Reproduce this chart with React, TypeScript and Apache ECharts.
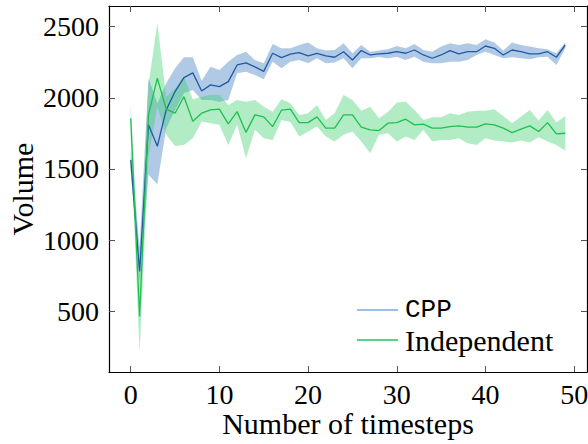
import React, { useEffect, useRef } from "react";
import * as echarts from "echarts";

const steps: number[] = Array.from({ length: 50 }, (_, i) => i);

const cppMean = [1564, 780, 1810, 1660, 1915, 2044, 2142, 2175, 2048, 2091, 2079, 2114, 2231, 2245, 2217, 2186, 2313, 2282, 2307, 2318, 2295, 2313, 2294, 2285, 2324, 2266, 2332, 2301, 2308, 2313, 2324, 2313, 2336, 2301, 2278, 2301, 2332, 2308, 2324, 2324, 2364, 2348, 2301, 2336, 2324, 2308, 2308, 2324, 2285, 2371];
const cppUpper = [1640, 950, 2138, 1960, 2102, 2208, 2285, 2285, 2120, 2219, 2196, 2254, 2301, 2324, 2266, 2243, 2378, 2348, 2348, 2371, 2388, 2348, 2332, 2336, 2383, 2313, 2371, 2324, 2332, 2341, 2364, 2348, 2378, 2336, 2324, 2360, 2383, 2371, 2383, 2371, 2411, 2388, 2332, 2388, 2371, 2360, 2348, 2341, 2313, 2388];
const cppLower = [1480, 700, 1459, 1393, 1787, 1915, 2032, 2055, 1985, 1985, 1973, 1985, 2173, 2184, 2161, 2131, 2254, 2208, 2254, 2266, 2243, 2278, 2243, 2248, 2278, 2208, 2278, 2278, 2287, 2278, 2289, 2266, 2289, 2254, 2243, 2243, 2254, 2254, 2266, 2301, 2324, 2301, 2278, 2285, 2278, 2271, 2285, 2289, 2231, 2348];

const indMean = [1857, 464, 1880, 2138, 1920, 1892, 2008, 1836, 1892, 1915, 1920, 1817, 1903, 1757, 1880, 1866, 1798, 1913, 1920, 1826, 1826, 1866, 1787, 1787, 1880, 1880, 1794, 1775, 1770, 1822, 1826, 1850, 1810, 1815, 1787, 1787, 1798, 1803, 1794, 1794, 1817, 1810, 1787, 1756, 1780, 1803, 1763, 1826, 1747, 1751];
const indUpper = [1962, 744, 2091, 2524, 2008, 2067, 2149, 1990, 2008, 2020, 2020, 1950, 1985, 1973, 1985, 1938, 1903, 1990, 1962, 1880, 1892, 1950, 1845, 1892, 2020, 1985, 1910, 1938, 1857, 1900, 1965, 1975, 1915, 1845, 1864, 1864, 1892, 1880, 1903, 1910, 1910, 1920, 1873, 1822, 1868, 1915, 1840, 1915, 1826, 1873];
const indLower = [1704, 206, 1587, 1938, 1740, 1662, 1669, 1716, 1833, 1822, 1810, 1669, 1810, 1576, 1775, 1716, 1704, 1845, 1830, 1728, 1763, 1798, 1728, 1693, 1740, 1763, 1693, 1611, 1740, 1751, 1693, 1728, 1704, 1775, 1693, 1704, 1704, 1716, 1681, 1669, 1716, 1700, 1693, 1686, 1700, 1686, 1723, 1693, 1669, 1629];

const xTicks = [0, 10, 20, 30, 40, 50];
const yTicks = [500, 1000, 1500, 2000, 2500];
const seriesNames = ["CPP", "Independent"];

const SERIF = "Liberation Serif";

function bandSeries(lower: number[], upper: number[], fill: string) {
  return {
    type: "custom",
    silent: true,
    z: 1,
    data: steps.map((i) => [i, lower[i], upper[i]]),
    encode: { x: 0, y: [1, 2] },
    renderItem: (params: any, api: any) => {
      if (params.dataIndex !== 0) return null;
      const pts: number[][] = [];
      steps.forEach((i) => pts.push(api.coord([i, upper[i]])));
      for (let k = steps.length - 1; k >= 0; k--) pts.push(api.coord([steps[k], lower[k]]));
      return { type: "polygon", shape: { points: pts }, style: { fill } };
    },
  };
}

export default function App() {
  const ref = useRef<HTMLDivElement>(null);
  useEffect(() => {
    if (!ref.current) return;
    const chart = echarts.init(ref.current, null, { renderer: "svg" });
    const tickStyle = { show: true, inside: true, length: 6, lineStyle: { color: "#555", width: 1 } };
    const plain = (v: number) => String(v);
    const option: any = {
      animation: false,
      backgroundColor: "#fff",
      grid: { left: 109, right: 1, top: 6, bottom: 72, show: false, containLabel: false, outerBoundsMode: "none" },
      xAxis: [
        {
          type: "value",
          min: -2.45,
          max: 51.45,
          position: "bottom",
          splitLine: { show: false },
          axisLine: { show: true, onZero: false, lineStyle: { color: "#000", width: 1.2 } },
          axisTick: { ...tickStyle, customValues: xTicks },
          axisLabel: { customValues: xTicks, formatter: plain, fontFamily: SERIF, fontSize: 28, color: "#000", margin: 8 },
          name: "Number of timesteps",
          nameLocation: "middle",
          nameGap: 36,
          nameMoveOverlap: false,
          nameTextStyle: { fontFamily: SERIF, fontSize: 30, color: "#000" },
        },
        {
          type: "value",
          min: -2.45,
          max: 51.45,
          position: "top",
          splitLine: { show: false },
          axisLine: { show: true, onZero: false, lineStyle: { color: "#000", width: 1.2 } },
          axisTick: { ...tickStyle, customValues: xTicks },
          axisLabel: { show: false },
        },
      ],
      yAxis: [
        {
          type: "value",
          min: 74,
          max: 2645,
          position: "left",
          splitLine: { show: false },
          axisLine: { show: true, onZero: false, lineStyle: { color: "#000", width: 1.2 } },
          axisTick: { ...tickStyle, customValues: yTicks },
          axisLabel: { customValues: yTicks, formatter: plain, fontFamily: SERIF, fontSize: 28, color: "#000", margin: 10 },
          name: "Volume",
          nameLocation: "middle",
          nameGap: 72,
          nameMoveOverlap: false,
          nameTextStyle: { fontFamily: SERIF, fontSize: 30, color: "#000" },
        },
        {
          type: "value",
          min: 74,
          max: 2645,
          position: "right",
          splitLine: { show: false },
          axisLine: { show: true, onZero: false, lineStyle: { color: "#000", width: 1.2 } },
          axisTick: { ...tickStyle, customValues: yTicks },
          axisLabel: { show: false },
        },
      ],
      series: [
        bandSeries(cppLower, cppUpper, "rgba(58,123,191,0.4)"),
        bandSeries(indLower, indUpper, "rgba(51,204,102,0.38)"),
        {
          name: seriesNames[0],
          type: "line",
          z: 3,
          symbol: "none",
          data: steps.map((i) => [i, cppMean[i]]),
          lineStyle: { color: "#1f5aa6", width: 1.3 },
        },
        {
          name: seriesNames[1],
          type: "line",
          z: 3,
          symbol: "none",
          data: steps.map((i) => [i, indMean[i]]),
          lineStyle: { color: "#1fbf4f", width: 1.3 },
        },
      ],
      graphic: [
        { type: "line", shape: { x1: 357, y1: 310, x2: 398, y2: 310 }, style: { stroke: "#7eaad9", lineWidth: 1.5 } },
        { type: "line", shape: { x1: 357, y1: 340, x2: 398, y2: 340 }, style: { stroke: "#22c55e", lineWidth: 1.5 } },
        {
          type: "text",
          x: 405,
          y: 310,
          style: { text: seriesNames[0], font: "26px Liberation Mono", fill: "#000", verticalAlign: "middle" },
        },
        {
          type: "text",
          x: 405,
          y: 340,
          style: { text: seriesNames[1], font: "30px Liberation Serif", fill: "#000", verticalAlign: "middle" },
        },
      ],
    };
    chart.setOption(option);
    return () => chart.dispose();
  }, []);
  return <div ref={ref} style={{ position: "fixed", left: 0, top: 0, width: 588, height: 444 }} />;
}
